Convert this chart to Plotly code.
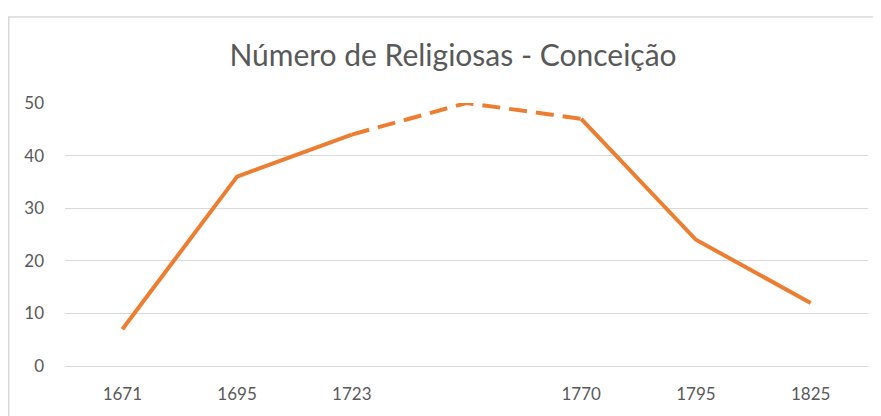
import plotly.graph_objects as go

categories = ["1671", "1695", "1723", "", "1770", "1795", "1825"]
values = [7, 36, 44, 50, 47, 24, 12]
dashed_from, dashed_to = 2, 4  # segment between 1723 and 1770 is dashed

title_text = "Número de Religiosas - Conceição"
orange = "#ED7D31"
grid = "#D9D9D9"
text_gray = "#595959"

idx = list(range(len(categories)))
solid_a = [v if i <= dashed_from else None for i, v in enumerate(values)]
solid_b = [v if i >= dashed_to else None for i, v in enumerate(values)]
dash_y = [v if dashed_from <= i <= dashed_to else None for i, v in enumerate(values)]

fig = go.Figure()
for ys, dash in ((solid_a, "solid"), (solid_b, "solid"), (dash_y, "18px,9px")):
    fig.add_trace(go.Scatter(x=idx, y=ys, mode="lines",
                             line=dict(color=orange, width=4, dash=dash),
                             cliponaxis=False, showlegend=False, hoverinfo="skip"))

# page body has an 8px margin; figure coords = screen coords - 8
W, H = 873, 408
L, R, T, B = 57, 13, 95, 44
pw = W - L - R
ph = H - T - B
font_family = "Lato, Calibri, sans-serif"

fig.update_layout(
    width=W, height=H,
    margin=dict(l=L, r=R, t=T, b=B),
    paper_bgcolor="white", plot_bgcolor="white",
    font=dict(family=font_family, color=text_gray),
    title=dict(text=title_text, x=445 / W, xanchor="center", xref="container",
               y=1 - 47 / H, yanchor="middle", yref="container",
               font=dict(size=30, color=text_gray, family=font_family)),
    xaxis=dict(range=[-0.5, len(categories) - 0.5], tickmode="array", tickvals=idx, ticktext=categories,
               showgrid=False, zeroline=False, showline=False, ticks="",
               tickfont=dict(size=17, color=text_gray), ticklabelstandoff=16),
    yaxis=dict(range=[0, 50], tickmode="array", tickvals=[0, 10, 20, 30, 40, 50],
               showgrid=True, gridcolor=grid, gridwidth=1, zeroline=True, zerolinecolor=grid,
               zerolinewidth=1, showline=False, ticks="",
               tickfont=dict(size=17, color=text_gray), ticklabelstandoff=20),
    shapes=[dict(type="rect", xref="paper", yref="paper",
                 x0=(0.75 - L) / pw, x1=(W + 10 - L) / pw,
                 y0=-(B + 10) / ph, y1=1 + (T - 7) / ph,
                 line=dict(color=grid, width=1.5), layer="below")],
)

fig.write_html("out.html")
